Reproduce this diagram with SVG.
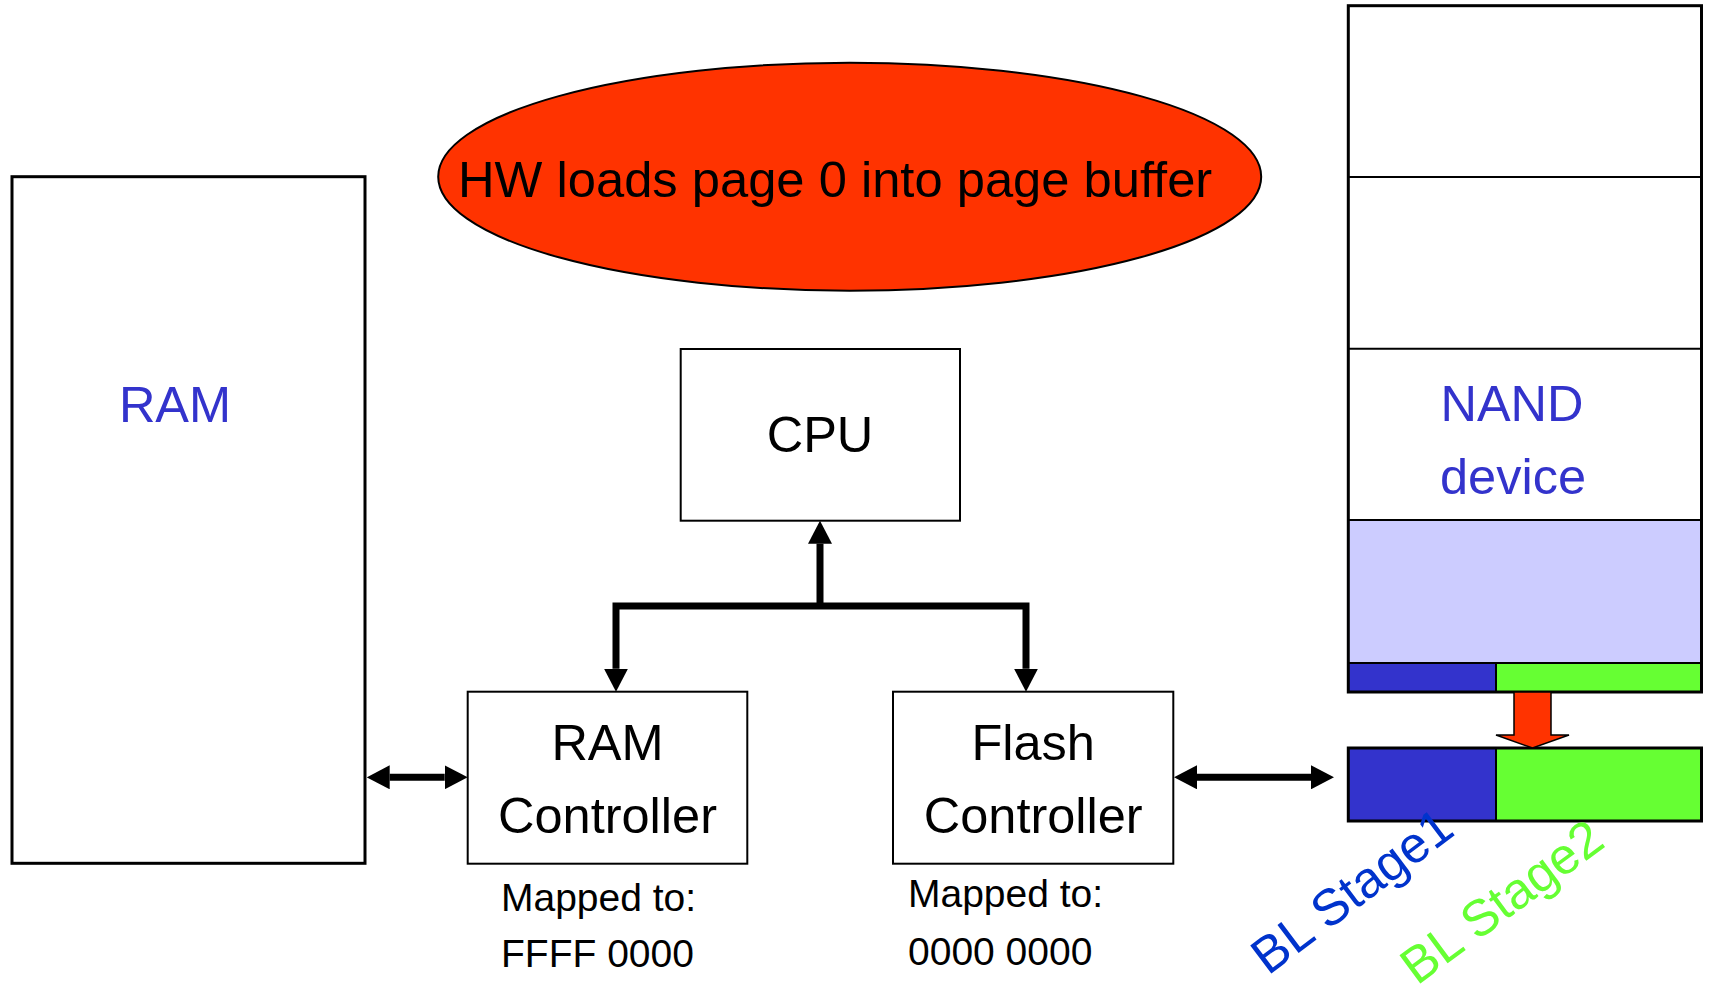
<svg xmlns="http://www.w3.org/2000/svg" width="1709" height="989" viewBox="0 0 1709 989">
  <style>
    text { font-family: "Liberation Sans", Arial, Helvetica, sans-serif; }
    .box { fill: #ffffff; stroke: #000000; stroke-width: 2; }
    .heavy { fill: none; stroke: #000000; stroke-width: 3; }
    .label { font-size: 50.5px; fill: #000000; text-anchor: middle; }
    .blue-label { font-size: 50.5px; fill: #3333cc; text-anchor: middle; }
    .note { font-size: 39px; fill: #000000; }
    .bus { fill: none; stroke: #000000; stroke-width: 7; stroke-linejoin: miter; }
    .divider { stroke: #000000; stroke-width: 2; }
  </style>
  <defs>
    <marker id="head" viewBox="0 0 23 24" refX="0" refY="12" markerWidth="23" markerHeight="24" markerUnits="userSpaceOnUse" orient="auto-start-reverse">
      <path d="M0,0 L23,12 L0,24 z" fill="#000000"/>
    </marker>
  </defs>

  <rect x="0" y="0" width="1709" height="989" fill="#ffffff"/>

  <!-- callout: boot step -->
  <g id="step-note">
    <ellipse cx="849.7" cy="176.7" rx="411.5" ry="114" fill="#ff3300" stroke="#000000" stroke-width="2"/>
    <text x="458" y="196.7" font-size="50.7" fill="#000000">HW loads page 0 into page buffer</text>
  </g>

  <!-- system RAM -->
  <g id="ram">
    <rect x="12" y="176.7" width="353" height="686.6" class="heavy" style="fill:#ffffff"/>
    <text x="175" y="422" class="blue-label">RAM</text>
  </g>

  <!-- processor -->
  <g id="cpu">
    <rect x="680.7" y="349" width="279.3" height="171.7" class="box"/>
    <text x="820" y="451.7" class="label">CPU</text>
  </g>

  <!-- RAM controller -->
  <g id="ram-controller">
    <rect x="467.7" y="691.7" width="279.6" height="172" class="box"/>
    <text x="607.5" y="760" class="label">RAM</text>
    <text x="607.5" y="832.7" class="label">Controller</text>
    <text x="501" y="911" class="note">Mapped to:</text>
    <text x="501" y="967" class="note">FFFF 0000</text>
  </g>

  <!-- flash controller -->
  <g id="flash-controller">
    <rect x="893" y="691.7" width="280.3" height="172" class="box"/>
    <text x="1033.2" y="760" class="label">Flash</text>
    <text x="1033.2" y="832.7" class="label">Controller</text>
    <text x="908" y="907" class="note">Mapped to:</text>
    <text x="908" y="965" class="note">0000 0000</text>
  </g>

  <!-- NAND device: stacked pages, page 0 at the bottom -->
  <g id="nand">
    <rect x="1348.3" y="5.7" width="353.2" height="686.3" fill="#ffffff"/>
    <rect x="1348.3" y="520" width="353.2" height="143" fill="#ccccff"/>
    <rect x="1348.3" y="663" width="147.7" height="29" fill="#3333cc"/>
    <rect x="1496" y="663" width="205.5" height="29" fill="#66ff33"/>
    <line x1="1348.3" y1="177" x2="1701.5" y2="177" class="divider"/>
    <line x1="1348.3" y1="348.7" x2="1701.5" y2="348.7" class="divider"/>
    <line x1="1348.3" y1="520" x2="1701.5" y2="520" class="divider"/>
    <line x1="1348.3" y1="663" x2="1701.5" y2="663" class="divider"/>
    <line x1="1496" y1="663" x2="1496" y2="692" class="divider"/>
    <rect x="1348.3" y="5.7" width="353.2" height="686.3" class="heavy"/>
    <text x="1512" y="421" class="blue-label">NAND</text>
    <text x="1513" y="494" class="blue-label">device</text>
  </g>

  <!-- page buffer holding the two boot loader stages -->
  <g id="page-buffer">
    <rect x="1348.3" y="748" width="147.7" height="73" fill="#3333cc"/>
    <rect x="1496" y="748" width="205.5" height="73" fill="#66ff33"/>
    <line x1="1496" y1="748" x2="1496" y2="821" class="divider"/>
    <rect x="1348.3" y="748" width="353.2" height="73" class="heavy"/>
    <text transform="translate(1268,976) rotate(-37)" font-size="51" fill="#0033cc">BL Stage1</text>
    <text transform="translate(1417,986) rotate(-36.5)" font-size="51" fill="#66ff33">BL Stage2</text>
  </g>

  <!-- connectors -->
  <g id="connectors">
    <path d="M820,606 V543.7" class="bus" marker-end="url(#head)"/>
    <path d="M820,606 H616 V668.7" class="bus" marker-end="url(#head)"/>
    <path d="M820,606 H1026 V668.7" class="bus" marker-end="url(#head)"/>
    <path d="M389.7,777.3 H444.7" class="bus" marker-start="url(#head)" marker-end="url(#head)"/>
    <path d="M1197,777.3 H1311" class="bus" marker-start="url(#head)" marker-end="url(#head)"/>
    <!-- page 0 copied into the page buffer -->
    <path d="M1514,692 V735 H1496 L1532.5,748 L1569,735 H1551 V692 z" fill="#ff3300" stroke="#000000" stroke-width="1.5" stroke-linejoin="miter"/>
  </g>
</svg>
